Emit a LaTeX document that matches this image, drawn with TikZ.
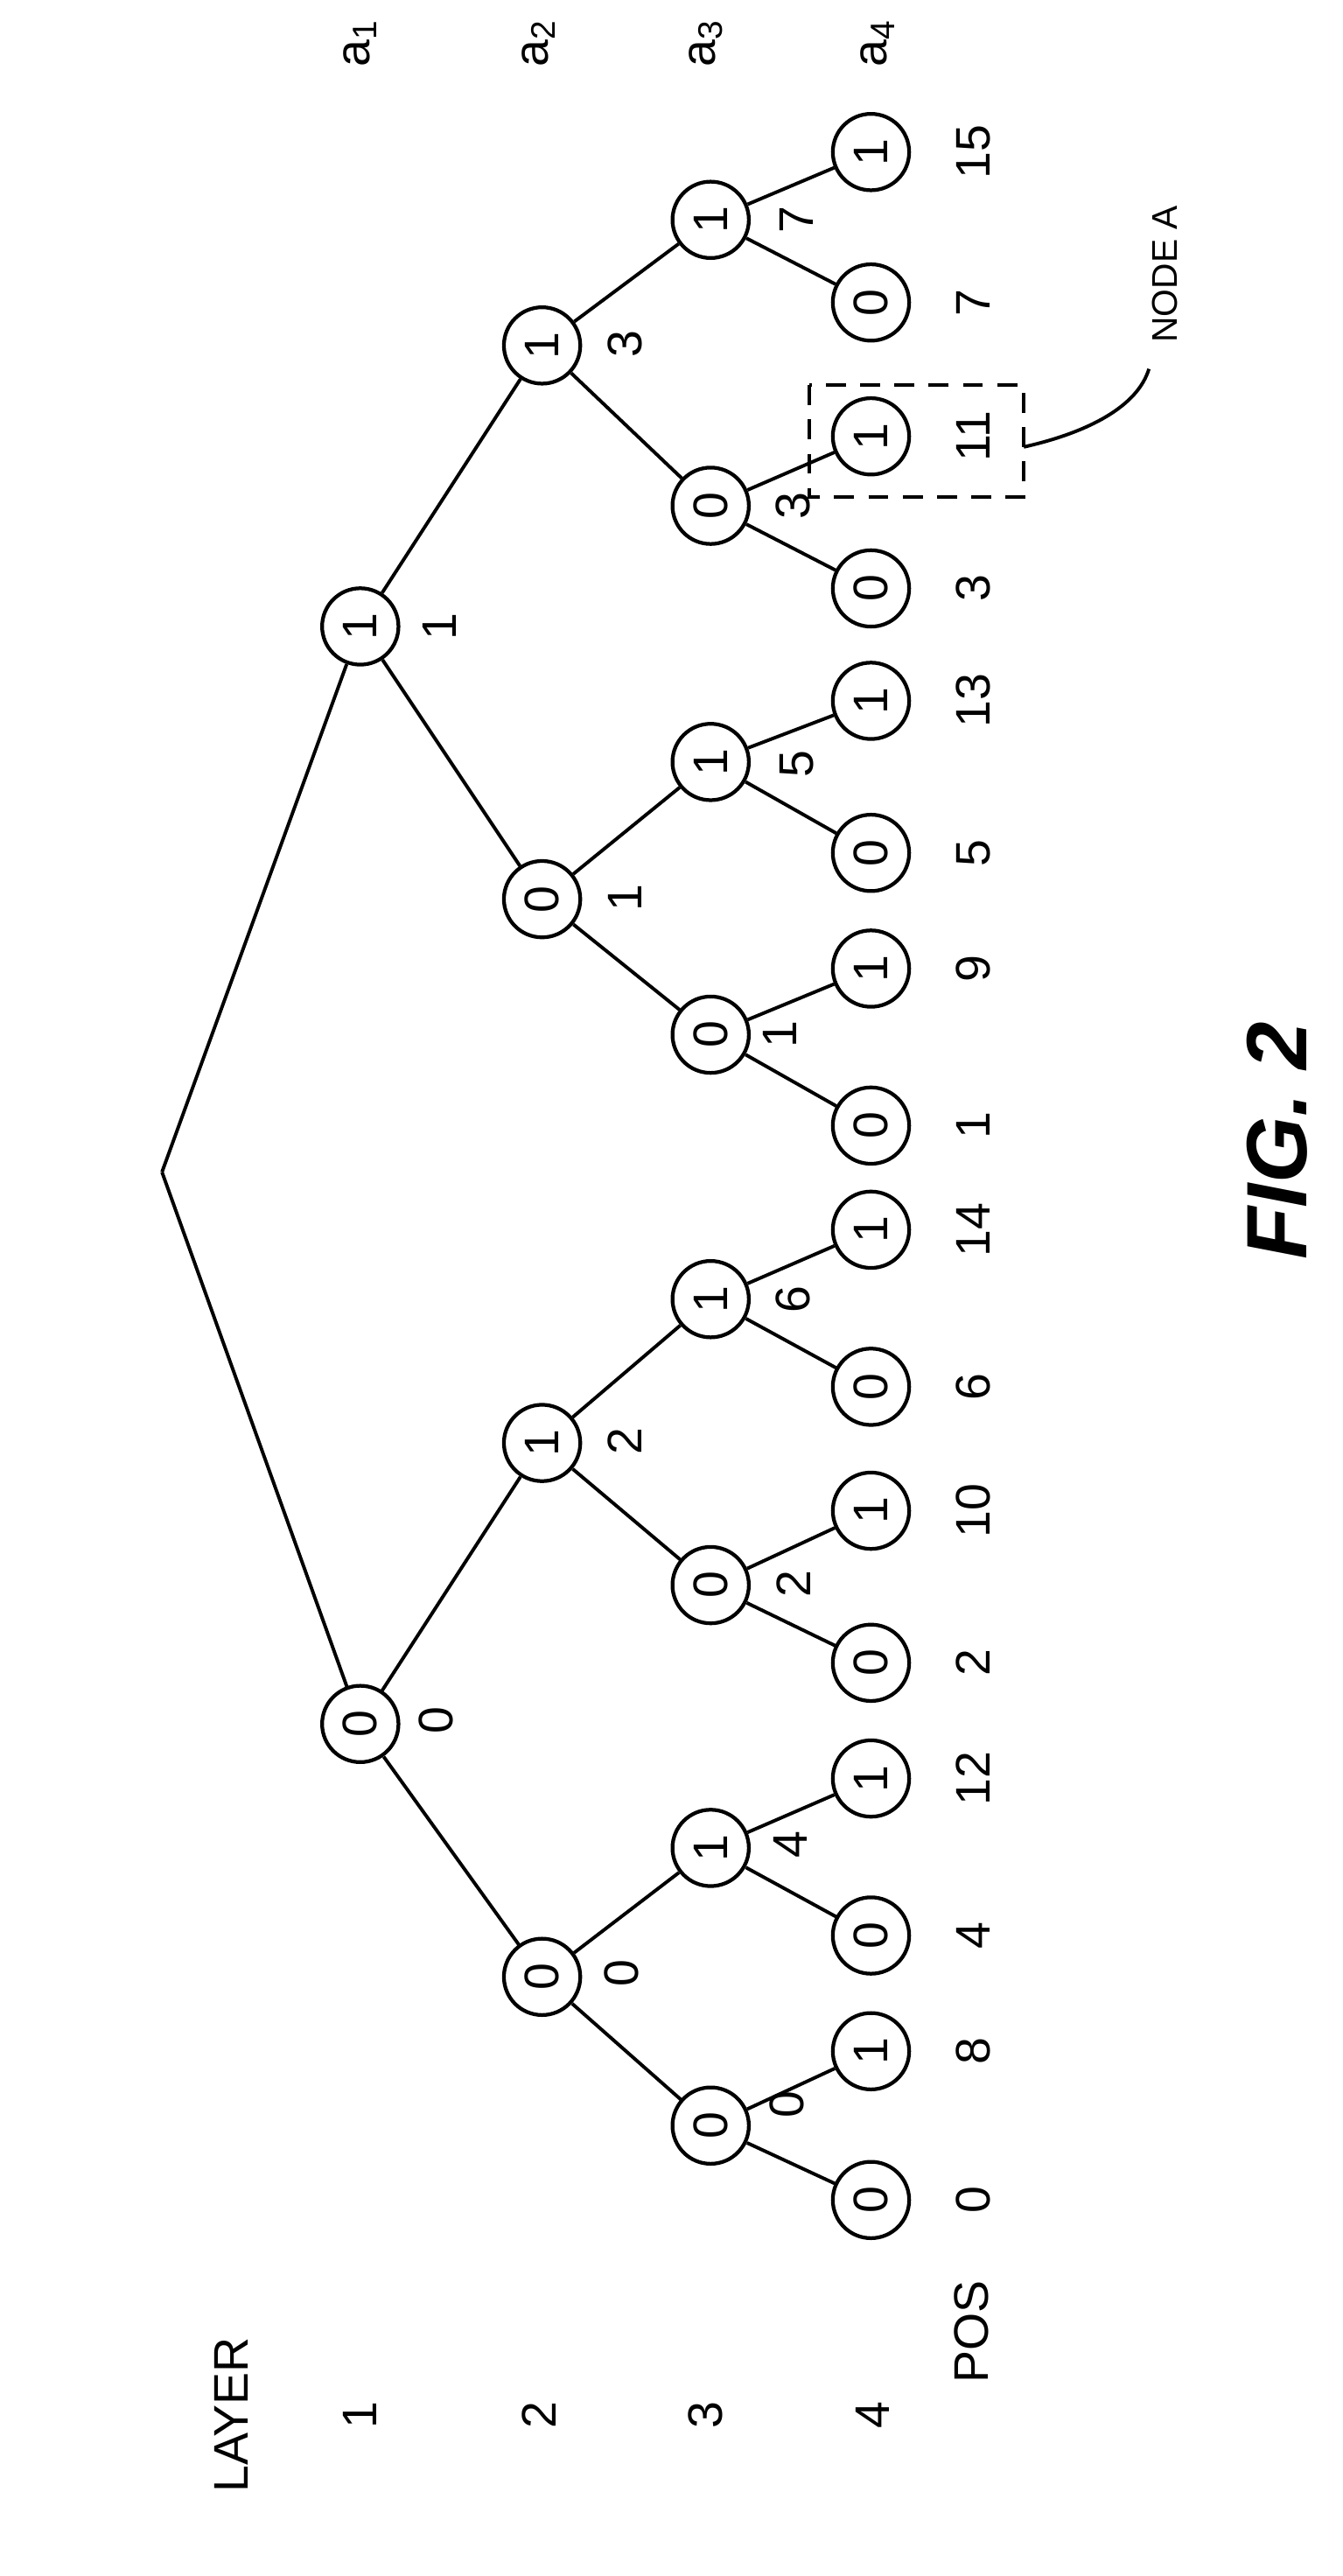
\documentclass[tikz,border=0pt]{standalone}
\usepackage{fontspec}
\setmainfont{Liberation Sans}
\begin{document}
\begin{tikzpicture}[x=0.02cm,y=-0.02cm,
  nd/.style={circle,draw,line width=1.3pt,minimum size=0.94cm,inner sep=0pt,font=\fontsize{17}{19}\selectfont,rotate=90},
  tx/.style={font=\fontsize{17}{19}\selectfont,rotate=90},
  ed/.style={line width=1.2pt}]
\useasboundingbox (0,0) rectangle (826,1585);
\begin{scope}[xscale=1.017,yscale=1.017,yshift=0.08cm]
\coordinate (r) at (98,713);
\node[nd] (l1a) at (218,1047) {0};
\node[nd] (l1b) at (218,383) {1};
\node[nd] (l2a) at (328,1200) {0};
\node[nd] (l2b) at (328,877) {1};
\node[nd] (l2c) at (328,548) {0};
\node[nd] (l2d) at (328,213) {1};
\foreach \n/\y/\v in {a/1290/0,b/1122/1,c/963/0,d/790/1,e/630/0,f/465/1,g/310/0,h/137/1}
  \node[nd] (l3\n) at (430,\y) {\v};
\foreach \n/\y/\v/\p in {1/1335/0/0,2/1245/1/8,3/1175/0/4,4/1080/1/12,5/1010/0/2,6/918/1/10,7/843/0/6,8/748/1/14,9/685/0/1,10/590/1/9,11/520/0/5,12/428/1/13,13/360/0/3,14/268/1/11,15/187/0/7,16/96/1/15}
  {\node[nd] (l4n\n) at (527,\y) {\v};
   \node[tx] (pos\n) at (589,\y) {\p};}
\draw[ed] (r) -- (l1a); \draw[ed] (r) -- (l1b);
\draw[ed] (l1a) -- (l2a); \draw[ed] (l1a) -- (l2b);
\draw[ed] (l1b) -- (l2c); \draw[ed] (l1b) -- (l2d);
\draw[ed] (l2a) -- (l3a); \draw[ed] (l2a) -- (l3b);
\draw[ed] (l2b) -- (l3c); \draw[ed] (l2b) -- (l3d);
\draw[ed] (l2c) -- (l3e); \draw[ed] (l2c) -- (l3f);
\draw[ed] (l2d) -- (l3g); \draw[ed] (l2d) -- (l3h);
\draw[ed] (l3a) -- (l4n1); \draw[ed] (l3a) -- (l4n2);
\draw[ed] (l3b) -- (l4n3); \draw[ed] (l3b) -- (l4n4);
\draw[ed] (l3c) -- (l4n5); \draw[ed] (l3c) -- (l4n6);
\draw[ed] (l3d) -- (l4n7); \draw[ed] (l3d) -- (l4n8);
\draw[ed] (l3e) -- (l4n9); \draw[ed] (l3e) -- (l4n10);
\draw[ed] (l3f) -- (l4n11); \draw[ed] (l3f) -- (l4n12);
\draw[ed] (l3g) -- (l4n13); \draw[ed] (l3g) -- (l4n14);
\draw[ed] (l3h) -- (l4n15); \draw[ed] (l3h) -- (l4n16);
% edge labels
\node[tx] (e1) at (264,1045) {0};
\node[tx] (e2) at (266,383) {1};
\node[tx] (e3) at (376,1198) {0};
\node[tx] (e4) at (378,876) {2};
\node[tx] (e5) at (378,547) {1};
\node[tx] (e6) at (378,212) {3};
\node[tx] (e7) at (476,1277) {0};
\node[tx] (e8) at (478,1120) {4};
\node[tx] (e9) at (480,962) {2};
\node[tx] (e10) at (480,790) {6};
\node[tx] (e11) at (472,630) {1};
\node[tx] (e12) at (482,466) {5};
\node[tx] (e13) at (480,310) {3};
\node[tx] (e14) at (482,137) {7};
% top labels
\foreach \i/\x in {1/218,2/326,3/427,4/531}
  \node[tx] (a\i) at (\x,30) {a$_{\mathrm{\i}}$};
\node[tx] (layer) at (140,1465) {LAYER};
\foreach \i/\x in {1/218,2/326,3/427,4/528}
  \node[tx] (ly\i) at (\x,1465) {\i};
\node[tx] (pos) at (588,1415) {POS};
\end{scope}
\node[rotate=90,font=\fontsize{30}{34}\selectfont\bfseries\itshape] (fig) at (786,702) {FIG. 2};
% node A box
\draw[dashed,line width=1.2pt,dash pattern=on 7pt off 5pt] (498,237) rectangle (630,306);
\coordinate (boxe) at (630,275);
\node[tx,font=\fontsize{12.5}{14}\selectfont,anchor=west] (nodea) at (717,217) {NODE A};
\draw[line width=1.2pt] (boxe) .. controls (670,266) and (700,250) .. (707,227);
\end{tikzpicture}
\end{document}
